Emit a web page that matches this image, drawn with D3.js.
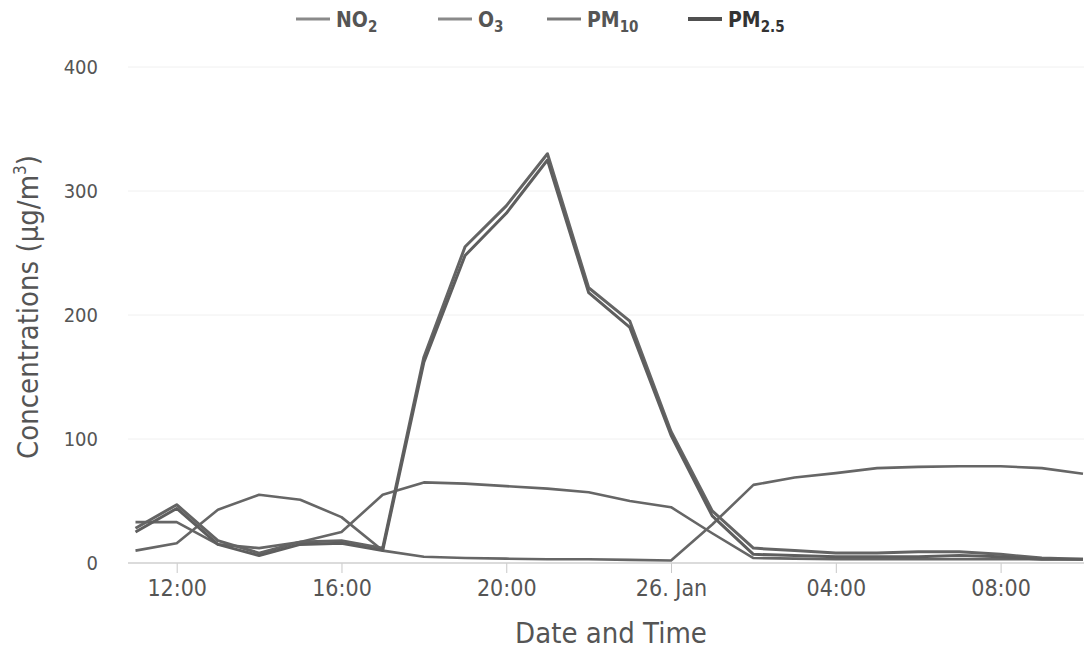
<!DOCTYPE html>
<html>
<head>
<meta charset="utf-8">
<script src="https://cdn.jsdelivr.net/npm/d3@7"></script>
<style>
  body { margin: 0; background: #fff; }
  svg { display: block; font-family: "DejaVu Sans Condensed", "DejaVu Sans", sans-serif; }
</style>
</head>
<body>
<svg id="chart" width="1084" height="652"></svg>
<script>
// hourly readings, 25 Jan 11:00 -> 26 Jan 10:00
const times = [
  "2017-01-25T11:00", "2017-01-25T12:00", "2017-01-25T13:00", "2017-01-25T14:00",
  "2017-01-25T15:00", "2017-01-25T16:00", "2017-01-25T17:00", "2017-01-25T18:00",
  "2017-01-25T19:00", "2017-01-25T20:00", "2017-01-25T21:00", "2017-01-25T22:00",
  "2017-01-25T23:00", "2017-01-26T00:00", "2017-01-26T01:00", "2017-01-26T02:00",
  "2017-01-26T03:00", "2017-01-26T04:00", "2017-01-26T05:00", "2017-01-26T06:00",
  "2017-01-26T07:00", "2017-01-26T08:00", "2017-01-26T09:00", "2017-01-26T10:00"
];
const no2 = [33, 33, 15, 12, 17, 25, 55, 65, 64, 62, 60, 57, 50, 45, 24, 4, 3.5, 3, 3, 3, 3, 3, 3, 3];
const o3 = [10, 16, 43, 55, 51, 37, 10, 5, 4, 3.5, 3, 3, 2.5, 2, 31, 63, 69, 72.5, 76.5, 77.5, 78, 78, 76.5, 72];
const pm10 = [28, 47, 18, 8, 17, 18, 12, 166, 255, 288, 330, 222, 195, 106, 42, 12, 10, 8, 8, 9, 9, 7, 4, 3];
const pm25 = [25, 44, 15, 6, 15, 16, 10, 162, 248, 282, 325, 218, 190, 103, 38, 7, 6, 5, 5, 5, 6, 5, 3, 3];
const yTicks = [0, 100, 200, 300, 400];

const seriesList = [
  { name: "NO", sub: "2", values: no2, color: "#666", legendColor: "#8a8a8a", width: 2.6 },
  { name: "O", sub: "3", values: o3, color: "#666", legendColor: "#8a8a8a", width: 2.6 },
  { name: "PM", sub: "10", values: pm10, color: "#646464", legendColor: "#7a7a7a", width: 3 },
  { name: "PM", sub: "2.5", values: pm25, color: "#5e5e5e", legendColor: "#505050", width: 3 }
];

const parse = d3.timeParse("%Y-%m-%dT%H:%M");
const dates = times.map(parse);

const svg = d3.select("#chart");
const plotLeft = 128, plotRight = 1084, plotTop = 67, plotBottom = 563;

const x = d3.scaleTime()
  .domain([dates[0], dates[dates.length - 1]])
  .range([135.5, 1083]);

const y = d3.scaleLinear()
  .domain([0, 400])
  .range([plotBottom, plotTop]);

// grid
svg.append("g")
  .selectAll("line")
  .data(yTicks.filter(d => d > 0))
  .enter()
  .append("line")
  .attr("x1", plotLeft).attr("x2", plotRight)
  .attr("y1", d => y(d)).attr("y2", d => y(d))
  .attr("stroke", "#f0f0f0")
  .attr("stroke-width", 1);

// y labels
svg.append("g")
  .selectAll("text")
  .data(yTicks)
  .enter()
  .append("text")
  .attr("x", 98)
  .attr("y", d => y(d) + 7)
  .attr("text-anchor", "end")
  .attr("font-size", "20px")
  .attr("fill", "#555")
  .text(d => d);

// x axis
const xTickFormat = d => (d.getHours() === 0 ? d3.timeFormat("%-d. %b")(d) : d3.timeFormat("%H:%M")(d));
const xAxis = d3.axisBottom(x)
  .ticks(d3.timeHour.every(4))
  .tickFormat(xTickFormat)
  .tickSize(10)
  .tickPadding(7);

const xg = svg.append("g")
  .attr("transform", `translate(0,${plotBottom})`)
  .call(xAxis);
xg.select(".domain").remove();
xg.selectAll(".tick line").attr("stroke", "#c8c8c8");
xg.selectAll(".tick text")
  .attr("font-size", "23px")
  .attr("fill", "#555")
  .attr("font-family", "DejaVu Sans Condensed, DejaVu Sans, sans-serif");
svg.append("line")
  .attr("x1", plotLeft).attr("x2", plotRight)
  .attr("y1", plotBottom).attr("y2", plotBottom)
  .attr("stroke", "#cfcfcf")
  .attr("stroke-width", 1.5);

// axis titles
svg.append("text")
  .attr("x", 611)
  .attr("y", 643)
  .attr("text-anchor", "middle")
  .attr("font-size", "29px")
  .attr("fill", "#555")
  .text("Date and Time");

const yTitle = svg.append("text")
  .attr("transform", "translate(38,307) rotate(-90)")
  .attr("text-anchor", "middle")
  .attr("font-size", "29px")
  .attr("fill", "#555");
yTitle.append("tspan").text("Concentrations (µg/m");
yTitle.append("tspan").attr("font-size", "17px").attr("dy", "-12").text("3");
yTitle.append("tspan").attr("dy", "12").text(")");

// lines
const line = d3.line()
  .x((d, i) => x(dates[i]))
  .y(d => y(d));

svg.append("g")
  .selectAll("path")
  .data(seriesList)
  .enter()
  .append("path")
  .attr("d", d => line(d.values))
  .attr("fill", "none")
  .attr("stroke", d => d.color)
  .attr("stroke-width", d => d.width)
  .attr("stroke-linejoin", "round");

// legend
const legendX = [296, 438, 547, 688];
const legend = svg.append("g")
  .selectAll("g")
  .data(seriesList)
  .enter()
  .append("g")
  .attr("transform", (d, i) => `translate(${legendX[i]},19)`);

legend.append("line")
  .attr("x1", 0).attr("x2", 34)
  .attr("y1", 0).attr("y2", 0)
  .attr("stroke", d => d.legendColor)
  .attr("stroke-width", (d, i) => (i === 3 ? 4 : 3));

const legendText = legend.append("text")
  .attr("x", 40)
  .attr("y", 8)
  .attr("font-size", "21px")
  .attr("font-weight", "bold")
  .attr("fill", (d, i) => (i === 3 ? "#333" : "#555"));
legendText.append("tspan").text(d => d.name);
legendText.append("tspan")
  .attr("font-size", "15px")
  .attr("dy", "5")
  .text(d => d.sub);
</script>
</body>
</html>
